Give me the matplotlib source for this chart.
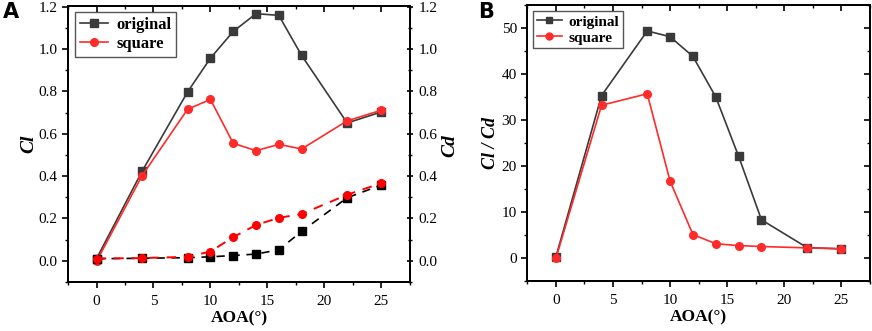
import matplotlib
matplotlib.use("Agg")
import matplotlib.pyplot as plt
from matplotlib.ticker import MultipleLocator, NullFormatter
from matplotlib.lines import Line2D

aoa = [0, 4, 8, 10, 12, 14, 16, 18, 22, 25]
cl_original = [0.010, 0.423, 0.798, 0.957, 1.083, 1.167, 1.159, 0.970, 0.651, 0.703]
cl_square = [-0.003, 0.402, 0.716, 0.762, 0.555, 0.520, 0.550, 0.528, 0.661, 0.711]
cd_original = [0.010, 0.012, 0.015, 0.019, 0.025, 0.032, 0.052, 0.139, 0.298, 0.358]
cd_square = [0.011, 0.013, 0.019, 0.044, 0.112, 0.169, 0.203, 0.221, 0.312, 0.367]
ld_original = [0.2, 35.3, 49.35, 48.1, 43.8, 35.0, 22.1, 8.3, 2.25, 2.0]
ld_square = [-0.1, 33.2, 35.7, 16.7, 5.1, 3.1, 2.7, 2.5, 2.2, 2.0]
series_names = ["original", "square"]

GRAY = "#3a3a3a"
RED = "#ff2a2a"
SERIF = ["Liberation Serif", "DejaVu Serif"]
plt.rcParams["font.family"] = SERIF

fig = plt.figure(figsize=(8.72, 3.31), dpi=100)
axA = fig.add_axes([0.078, 0.148, 0.392, 0.835])
axB = fig.add_axes([0.6047, 0.151, 0.393, 0.834])

LS = 11


def base_ticks(ax):
    ax.xaxis.set_major_locator(MultipleLocator(5))
    ax.xaxis.set_minor_locator(MultipleLocator(2.5))
    ax.tick_params(axis="x", which="both", bottom=True, top=False, direction="out")
    ax.tick_params(axis="x", which="major", length=4, width=1.2, labelsize=LS, pad=5)
    ax.tick_params(axis="x", which="minor", length=2.5, width=1.0)
    ax.tick_params(axis="y", which="both", left=True, right=False, direction="out")
    ax.tick_params(axis="y", which="major", length=4, width=1.2, labelsize=LS)
    ax.tick_params(axis="y", which="minor", length=2.5, width=1.0)
    for s in ax.spines.values():
        s.set_linewidth(1.2)


def top_ticks(ax):
    t = ax.twiny()
    t.set_xlim(ax.get_xlim())
    t.xaxis.set_major_locator(MultipleLocator(5))
    t.xaxis.set_minor_locator(MultipleLocator(2.5))
    t.xaxis.set_major_formatter(NullFormatter())
    t.tick_params(axis="x", which="major", direction="in", length=4, width=1.2)
    t.tick_params(axis="x", which="minor", direction="in", length=2.5, width=1.0)
    for s in t.spines.values():
        s.set_linewidth(1.2)
    return t


# Panel A
axA.plot(aoa, cl_original, color=GRAY, lw=1.2, marker="s", ms=5.5, mfc=GRAY, mec=GRAY)
axA.plot(aoa, cl_square, color=RED, lw=1.2, marker="o", ms=5.5, mfc=RED, mec=RED)
axA.plot(aoa, cd_original, color="black", lw=1.2, ls=(0, (5, 4)), marker="s", ms=5.5, mfc="black", mec="black")
axA.plot(aoa, cd_square, color="red", lw=1.4, ls=(0, (5, 4)), marker="o", ms=5.5, mfc="red", mec="red")
axA.set_xlim(-2.5, 27.5)
axA.set_ylim(-0.1, 1.205)
axA.yaxis.set_major_locator(MultipleLocator(0.2))
axA.yaxis.set_minor_locator(MultipleLocator(0.1))
axA.yaxis.set_major_formatter(plt.FuncFormatter(lambda v, p: f"{v:.1f}"))
base_ticks(axA)
axA.set_xlabel("AOA(°)", fontsize=12.5, fontweight="bold", labelpad=2)
axA.set_ylabel("Cl", fontsize=14, fontweight="bold", style="italic", labelpad=1)
top_ticks(axA)

axA2 = axA.twinx()
axA2.set_ylim(axA.get_ylim())
axA2.yaxis.set_major_locator(MultipleLocator(0.2))
axA2.yaxis.set_minor_locator(MultipleLocator(0.1))
axA2.yaxis.set_major_formatter(plt.FuncFormatter(lambda v, p: f"{v:.1f}"))
axA2.tick_params(axis="y", which="major", direction="inout", length=5, width=1.2, labelsize=LS)
axA2.tick_params(axis="y", which="minor", direction="inout", length=3, width=1.0)
for s in axA2.spines.values():
    s.set_linewidth(1.2)
fig.text(0.516, 0.56, "Cd", rotation=90, fontsize=14, fontweight="bold", style="italic",
         ha="center", va="center")

legA = axA.legend(
    [Line2D([], [], color=GRAY, marker="s", ms=5.5, lw=1.2),
     Line2D([], [], color=RED, marker="o", ms=5.5, lw=1.2)],
    series_names, loc="upper left", bbox_to_anchor=(0.0, 1.0), fancybox=False,
    edgecolor="#555555", framealpha=1, prop={"family": SERIF, "weight": "bold", "size": 12},
    handlelength=1.7, borderpad=0.3, labelspacing=0.18, handletextpad=0.5, borderaxespad=0.4)
legA.get_frame().set_linewidth(1.0)

# Panel B
axB.plot(aoa, ld_original, color=GRAY, lw=1.2, marker="s", ms=5.5, mfc=GRAY, mec=GRAY)
axB.plot(aoa, ld_square, color=RED, lw=1.2, marker="o", ms=5.5, mfc=RED, mec=RED)
axB.set_xlim(-2.5, 27.5)
axB.set_ylim(-5, 55)
axB.yaxis.set_major_locator(MultipleLocator(10))
axB.yaxis.set_minor_locator(MultipleLocator(5))
base_ticks(axB)
axB.set_xlabel("AOA(°)", fontsize=12.5, fontweight="bold", labelpad=2)
axB.set_ylabel("Cl / Cd", fontsize=13, fontweight="bold", style="italic", labelpad=2)
top_ticks(axB)
rB = axB.twinx()
rB.set_ylim(axB.get_ylim())
rB.yaxis.set_major_locator(MultipleLocator(10))
rB.yaxis.set_minor_locator(MultipleLocator(5))
rB.yaxis.set_major_formatter(NullFormatter())
rB.tick_params(axis="y", which="major", direction="in", length=4, width=1.2)
rB.tick_params(axis="y", which="minor", direction="in", length=2.5, width=1.0)
for s in rB.spines.values():
    s.set_linewidth(1.2)

legB = axB.legend(
    [Line2D([], [], color=GRAY, marker="s", ms=5, lw=1.2),
     Line2D([], [], color=RED, marker="o", ms=5, lw=1.2)],
    series_names, loc="upper left", bbox_to_anchor=(0.0, 1.0), fancybox=False,
    edgecolor="#555555", framealpha=1, prop={"family": SERIF, "weight": "bold", "size": 11},
    handlelength=1.6, borderpad=0.25, labelspacing=0.15, handletextpad=0.45, borderaxespad=0.4)
legB.get_frame().set_linewidth(1.0)

fig.text(0.003, 0.995, "A", fontsize=15, fontweight="bold", family="DejaVu Sans", ha="left", va="top")
fig.text(0.548, 0.995, "B", fontsize=15, fontweight="bold", family="DejaVu Sans", ha="left", va="top")

fig.savefig("out.png", dpi=100)
